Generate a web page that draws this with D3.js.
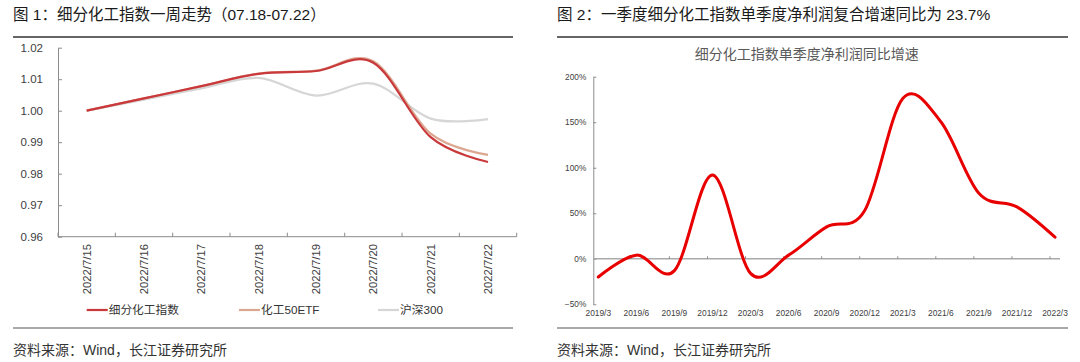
<!DOCTYPE html>
<html>
<head>
<meta charset="utf-8">
<script src="https://cdn.jsdelivr.net/npm/d3@7"></script>
<style>
  body { margin: 0; background: #fff; }
  svg { display: block; font-family: "Liberation Sans", "Noto Sans CJK SC", sans-serif; }
</style>
</head>
<body>
<div id="chart"></div>
<script>
'use strict';

// 图1 数据
var dates = ["2022/7/15", "2022/7/16", "2022/7/17", "2022/7/18", "2022/7/19", "2022/7/20", "2022/7/21", "2022/7/22"];
var seriesNames = ["细分化工指数", "化工50ETF", "沪深300"];
var chemIndex = [1.0000, 1.0039, 1.0078, 1.0117, 1.0126, 1.0152, 0.9916, 0.9837];
var chemEtf   = [1.0000, 1.0039, 1.0078, 1.0118, 1.0127, 1.0157, 0.9927, 0.9860];
var hs300     = [1.0000, 1.0035, 1.0071, 1.0104, 1.0048, 1.0086, 0.9975, 0.9973];
var leftTicks = [0.96, 0.97, 0.98, 0.99, 1.00, 1.01, 1.02];

// 图2 数据
var quarters = ["2019/3", "2019/6", "2019/9", "2019/12", "2020/3", "2020/6", "2020/9", "2020/12",
                "2021/3", "2021/6", "2021/9", "2021/12", "2022/3"];
var profitGrowth = [-0.20, 0.04, -0.13, 0.92, -0.16, 0.04, 0.35, 0.53, 1.76, 1.505, 0.72, 0.57, 0.237];
var rightTicks = [-0.5, 0, 0.5, 1, 1.5, 2];

var W = 1080, H = 362;
var axisColor = "#8c8c8c";
var textColor = "#404040";

var svg = d3.select("#chart").append("svg")
  .attr("width", W)
  .attr("height", H);

// 标题、分隔线、来源
function frame(x0, x1, title) {
  svg.append("text")
    .attr("x", x0).attr("y", 20)
    .attr("font-size", 15.5)
    .attr("fill", "#1a1a1a")
    .text(title);
  svg.append("line")
    .attr("x1", x0).attr("x2", x1)
    .attr("y1", 37).attr("y2", 37)
    .attr("stroke", "#333").attr("stroke-width", 1.5);
  svg.append("line")
    .attr("x1", x0).attr("x2", x1)
    .attr("y1", 328).attr("y2", 328)
    .attr("stroke", "#555").attr("stroke-width", 1.2);
  svg.append("text")
    .attr("x", x0).attr("y", 355)
    .attr("font-size", 14)
    .attr("fill", "#333")
    .text("资料来源：Wind，长江证券研究所");
}

frame(13, 513, "图 1：细分化工指数一周走势（07.18-07.22）");
frame(557, 1068, "图 2：一季度细分化工指数单季度净利润复合增速同比为 23.7%");

// ---------- 图1 ----------
function drawLeft() {
  var x = d3.scaleBand().domain(dates).range([58, 516.7]);
  var y = d3.scaleLinear().domain([0.96, 1.02]).range([236.7, 47.7]);
  var g = svg.append("g");

  var yAxis = g.append("g")
    .attr("transform", "translate(58,0)")
    .call(d3.axisLeft(y).tickValues(leftTicks).tickFormat(d3.format(".2f"))
      .tickSizeInner(-4).tickSizeOuter(0).tickPadding(15));
  yAxis.select(".domain").attr("stroke", axisColor);
  yAxis.selectAll(".tick line").attr("stroke", axisColor);
  yAxis.selectAll("text").attr("font-size", 11.5).attr("fill", textColor);

  g.append("line")
    .attr("x1", 58).attr("x2", 516.7)
    .attr("y1", 236.7).attr("y2", 236.7)
    .attr("stroke", axisColor);

  var bounds = dates.map(function(d) { return x(d); }).concat([x.range()[1]]);
  g.selectAll(".xtick").data(bounds).enter().append("line")
    .attr("x1", function(d) { return d; })
    .attr("x2", function(d) { return d; })
    .attr("y1", 236.7).attr("y2", 232.7)
    .attr("stroke", axisColor);

  g.selectAll(".xlabel").data(dates).enter().append("text")
    .attr("transform", function(d) {
      return "translate(" + (x(d) + x.bandwidth() / 2 + 4) + ",244) rotate(-90)";
    })
    .attr("text-anchor", "end")
    .attr("font-size", 11.3)
    .attr("fill", textColor)
    .text(function(d) { return d; });

  var series = [
    { name: seriesNames[2], values: hs300, color: "#d6d6d6" },
    { name: seriesNames[1], values: chemEtf, color: "#dca791" },
    { name: seriesNames[0], values: chemIndex, color: "#c9393b" }
  ];

  var line = d3.line()
    .x(function(d, i) { return x(dates[i]) + x.bandwidth() / 2; })
    .y(function(d) { return y(d); })
    .curve(d3.curveCardinal.tension(0));

  g.selectAll(".series").data(series).enter().append("path")
    .attr("d", function(s) { return line(s.values); })
    .attr("fill", "none")
    .attr("stroke", function(s) { return s.color; })
    .attr("stroke-width", 2.2);

  // 图例
  var legendX = [86.7, 239, 378];
  var legend = g.selectAll(".legend").data(series.slice().reverse()).enter().append("g")
    .attr("transform", function(d, i) { return "translate(" + legendX[i] + ",310)"; });
  legend.append("line")
    .attr("x1", 0).attr("x2", 21)
    .attr("stroke", function(d) { return d.color; })
    .attr("stroke-width", 2.2);
  legend.append("text")
    .attr("x", 22).attr("dy", "0.36em")
    .attr("font-size", 11.7)
    .attr("fill", "#333")
    .text(function(d) { return d.name; });
}

// ---------- 图2 ----------
function drawRight() {
  var x = d3.scalePoint().domain(quarters).range([598.3, 1055]);
  var y = d3.scaleLinear().domain([-0.5, 2]).range([304.3, 76.7]);
  var g = svg.append("g");

  g.append("text")
    .attr("x", 806.7).attr("y", 59)
    .attr("text-anchor", "middle")
    .attr("font-size", 14)
    .attr("fill", "#595959")
    .text("细分化工指数单季度净利润同比增速");

  var yAxis = g.append("g")
    .attr("transform", "translate(593.3,0)")
    .call(d3.axisLeft(y).tickValues(rightTicks).tickFormat(d3.format(".0%"))
      .tickSizeInner(-3).tickSizeOuter(0).tickPadding(7));
  yAxis.select(".domain").attr("stroke", axisColor);
  yAxis.selectAll(".tick line").attr("stroke", axisColor);
  yAxis.selectAll("text").attr("font-size", 8.3).attr("fill", textColor);

  g.append("line")
    .attr("x1", 593.3).attr("x2", 1060)
    .attr("y1", y(0)).attr("y2", y(0))
    .attr("stroke", "#aaaaaa").attr("stroke-width", 1.6);

  g.selectAll(".xtick").data(quarters.slice(1)).enter().append("line")
    .attr("x1", function(d) { return x(d) - 5; })
    .attr("x2", function(d) { return x(d) - 5; })
    .attr("y1", y(0)).attr("y2", y(0) - 2.5)
    .attr("stroke", axisColor);

  g.selectAll(".xlabel").data(quarters).enter().append("text")
    .attr("x", function(d) { return x(d); })
    .attr("y", 316)
    .attr("text-anchor", "middle")
    .attr("font-size", 8.4)
    .attr("fill", textColor)
    .text(function(d) { return d; });

  var line = d3.line()
    .x(function(d, i) { return x(quarters[i]); })
    .y(function(d) { return y(d); })
    .curve(d3.curveCardinal.tension(0));

  g.append("path")
    .attr("d", line(profitGrowth))
    .attr("fill", "none")
    .attr("stroke", "#e80000")
    .attr("stroke-width", 3)
    .attr("stroke-linecap", "round");
}

drawLeft();
drawRight();
</script>
</body>
</html>
